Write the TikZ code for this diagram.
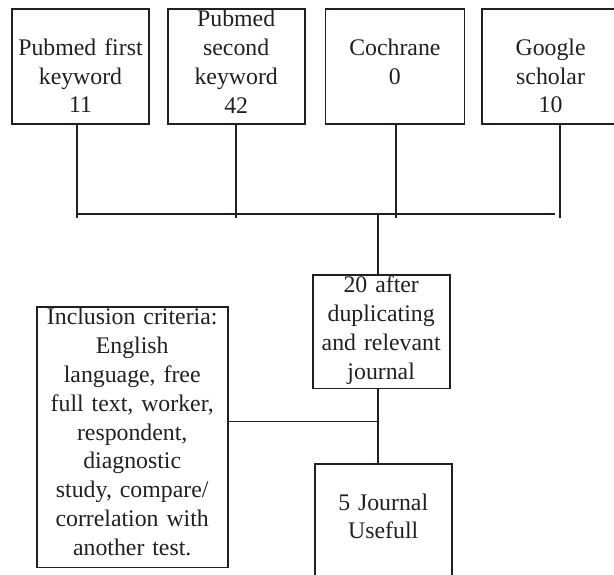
\documentclass[tikz,border=0pt]{standalone}
\usepackage{fontspec}
\setmainfont{Liberation Serif}
\usetikzlibrary{positioning}
\definecolor{ink}{RGB}{35,31,32}

\begin{document}
\begin{tikzpicture}[x=1pt,y=-1pt,color=ink,
  font=\fontsize{23.8}{28.8}\selectfont,
  box/.style={draw,line width=1.7pt,inner sep=0pt,align=center,text width=137pt},
  tighttext/.style={text height=17.7pt,text depth=#1},
  padtext/.style={text height=46.3pt,text depth=#1},
  link/.style={line width=1.6pt}]
\useasboundingbox (0,0) rectangle (614,574);
\node[box,padtext=68.7pt] (b1) at (80.5,66.5) {Pubmed first\\keyword\\11};
\node[box,tighttext=97.3pt,right=17pt of b1] (b2) {Pubmed\\second\\keyword\\42};
\node[box,padtext=68.7pt,text width=139pt,right=19pt of b2] (b3) {Cochrane\\0};
\node[box,padtext=68.7pt,right=16pt of b3] (b4) {Google\\scholar\\10};
\node[box,tighttext=95.6pt] (b5) at (381.2,331.7) {20 after\\duplicating\\and relevant\\journal};
\node[box,tighttext=242.6pt,text width=191pt] (b6) at (132.2,437.3) {Inclusion criteria:\\English\\language, free\\full text, worker,\\respondent,\\diagnostic\\study, compare/\\correlation with\\another test.};
\node[box,padtext=68.7pt,below=73.7pt of b5,xshift=2pt] (b7) {5 Journal\\Usefull};
\coordinate (busL) at (77,214);
\coordinate (busR) at (555,214);
\coordinate (hub) at (377.7,214);
\coordinate (join) at (377.7,421.5);
\foreach \b/\dx in {b1/-3.5,b2/-0.5,b3/1.2,b4/9.5}
  \draw[link] ([xshift=\dx pt]\b.south) -- ++(0,93);
\draw[link] (busL) -- (busR);
\draw[link] (hub) -- (hub |- b5.north);
\draw[link] (hub |- b5.south) -- (hub |- b7.north);
\draw[link] (b6.east |- join) -- (join);
\end{tikzpicture}
\end{document}
